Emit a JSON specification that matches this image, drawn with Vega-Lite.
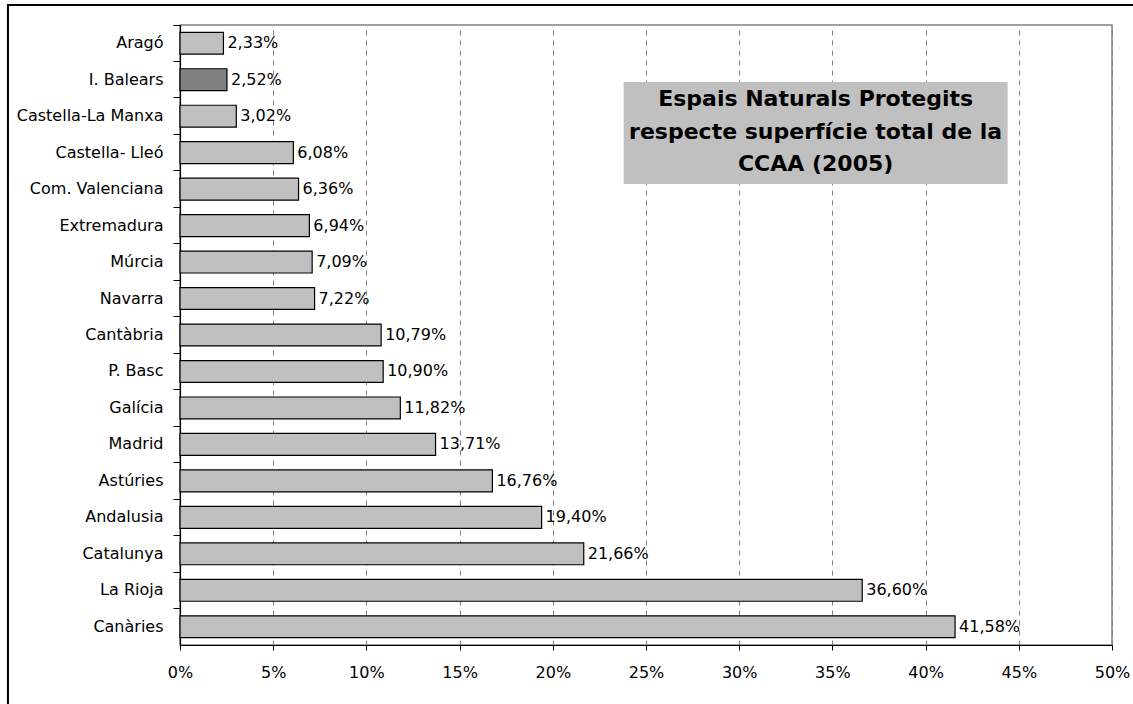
{
  "$schema": "https://vega.github.io/schema/vega-lite/v6.json",
  "width": 932,
  "height": 620,
  "autosize": {"type": "none"},
  "padding": {"left": 180, "top": 25, "right": 21, "bottom": 59},
  "background": "white",
  "config": {
    "font": "DejaVu Sans",
    "view": {"stroke": "#808080", "strokeWidth": 1.5},
    "locale": {"number": {"decimal": ",", "thousands": ".", "grouping": [3], "currency": ["", " €"]}}
  },
  "data": {
    "values": [
      {"region": "Aragó", "value": 0.0233},
      {"region": "I. Balears", "value": 0.0252},
      {"region": "Castella-La Manxa", "value": 0.0302},
      {"region": "Castella- Lleó", "value": 0.0608},
      {"region": "Com. Valenciana", "value": 0.0636},
      {"region": "Extremadura", "value": 0.0694},
      {"region": "Múrcia", "value": 0.0709},
      {"region": "Navarra", "value": 0.0722},
      {"region": "Cantàbria", "value": 0.1079},
      {"region": "P. Basc", "value": 0.1090},
      {"region": "Galícia", "value": 0.1182},
      {"region": "Madrid", "value": 0.1371},
      {"region": "Astúries", "value": 0.1676},
      {"region": "Andalusia", "value": 0.1940},
      {"region": "Catalunya", "value": 0.2166},
      {"region": "La Rioja", "value": 0.3660},
      {"region": "Canàries", "value": 0.4158}
    ]
  },
  "layer": [
    {
      "encoding": {
        "y": {
          "field": "region", "type": "nominal", "sort": null,
          "scale": {"paddingInner": 0, "paddingOuter": 0},
          "axis": {
            "title": null, "bandPosition": 0, "tickExtra": true, "tickSize": 7,
            "tickColor": "black", "domainColor": "black", "domainWidth": 1.2,
            "labelFontSize": 16, "labelColor": "black", "labelPadding": 10, "labelFont": "DejaVu Sans"
          }
        },
        "x": {
          "field": "value", "type": "quantitative",
          "scale": {"domain": [0, 0.5], "nice": false, "zero": true},
          "axis": {
            "title": null, "format": ".0%", "values": [0, 0.05, 0.1, 0.15, 0.2, 0.25, 0.3, 0.35, 0.4, 0.45, 0.5],
            "labelFlush": false, "labelOverlap": false,
            "tickSize": 5, "tickColor": "black", "domainColor": "black", "domainWidth": 1.2,
            "grid": true, "gridColor": "#808080", "gridDash": [5, 5], "gridWidth": 1,
            "labelFontSize": 16, "labelColor": "black", "labelPadding": 14, "labelFont": "DejaVu Sans"
          }
        }
      },
      "layer": [
        {
          "mark": {"type": "bar", "height": {"band": 0.6}, "stroke": "black", "strokeWidth": 1.2},
          "encoding": {
            "fill": {
              "condition": {"test": "datum.region === 'I. Balears'", "value": "#808080"},
              "value": "#c0c0c0"
            }
          }
        },
        {
          "mark": {"type": "text", "align": "left", "baseline": "middle", "dx": 4, "fontSize": 16, "color": "black"},
          "encoding": {
            "text": {"field": "value", "type": "quantitative", "format": ".2%"}
          }
        }
      ]
    },
    {
      "data": {"values": [{"t": "box"}]},
      "mark": {"type": "rect", "fill": "#c0c0c0"},
      "encoding": {
        "x": {"datum": 0.238, "type": "quantitative", "scale": {"domain": [0, 0.5], "nice": false}, "axis": null},
        "x2": {"datum": 0.444},
        "y": {"datum": 1.563, "type": "quantitative", "scale": {"domain": [0, 17], "reverse": true}, "axis": null},
        "y2": {"datum": 4.36}
      }
    },
    {
      "data": {"values": [{"t": "box"}]},
      "mark": {
        "type": "text", "align": "center", "baseline": "middle", "fontSize": 22, "fontWeight": "bold",
        "lineHeight": 32.5, "color": "black",
        "text": ["Espais Naturals Protegits", "respecte superfície total de la", "CCAA (2005)"]
      },
      "encoding": {
        "x": {"datum": 0.341, "type": "quantitative", "scale": {"domain": [0, 0.5], "nice": false}, "axis": null},
        "y": {"datum": 2.03, "type": "quantitative", "scale": {"domain": [0, 17], "reverse": true}, "axis": null}
      }
    },
    {
      "data": {"values": [{"t": "frame"}]},
      "mark": {"type": "rect", "filled": false, "stroke": "black", "strokeWidth": 2},
      "encoding": {
        "x": {"datum": -0.0923, "type": "quantitative", "scale": {"domain": [0, 0.5], "nice": false}, "axis": null},
        "x2": {"datum": 1.0},
        "y": {"datum": -0.55, "type": "quantitative", "scale": {"domain": [0, 17], "reverse": true}, "axis": null},
        "y2": {"datum": 30}
      }
    }
  ],
  "resolve": {"scale": {"x": "independent", "y": "independent"}, "axis": {"x": "independent", "y": "independent"}}
}
